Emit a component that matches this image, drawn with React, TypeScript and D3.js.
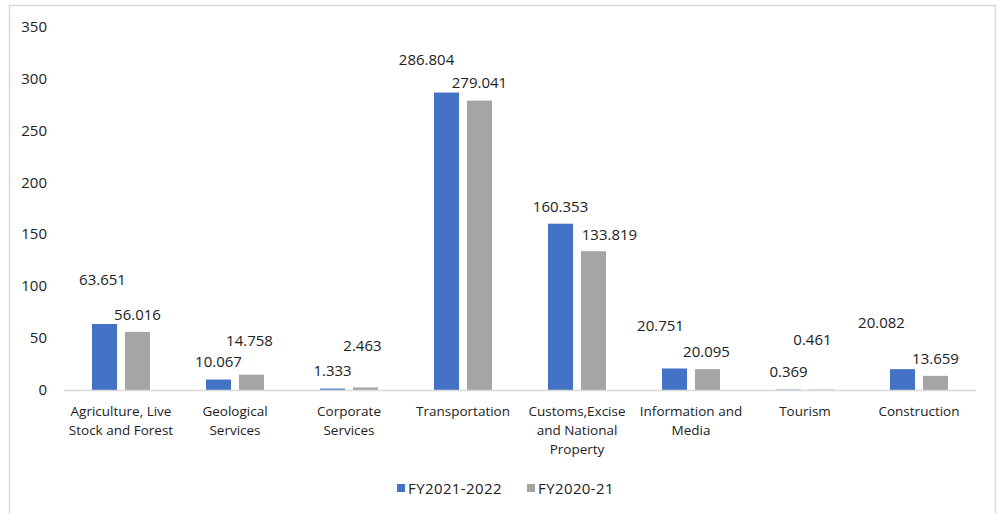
import { scaleBand, scaleLinear } from 'd3'

const categories = [
  'Agriculture, Live\nStock and Forest',
  'Geological\nServices',
  'Corporate\nServices',
  'Transportation',
  'Customs,Excise\nand National\nProperty',
  'Information and\nMedia',
  'Tourism',
  'Construction',
]
const seriesNames = ['FY2021-2022', 'FY2020-21']
const fy2122 = [63.651, 10.067, 1.333, 286.804, 160.353, 20.751, 0.369, 20.082]
const fy2021 = [56.016, 14.758, 2.463, 279.041, 133.819, 20.095, 0.461, 13.659]
const yTicks = [0, 50, 100, 150, 200, 250, 300, 350]

const colors = ['#4472C4', '#A5A5A5']

// label drags from the original (dx, dy from bar top)
const nudges = [
  [[-2, -44], [0, -18], [0, -18], [-20, -33], [0, -17], [-14, -42], [0, -18], [-21, -46]],
  [[0, -17], [-2, -34], [-3, -41], [0, -18], [16, -16], [-1, -17], [-9, -50], [0, -17]],
]

const width = 997
const height = 514
const font = "'Open Sans', sans-serif"
const textColor = '#222'

function App() {
  const values = [fy2122, fy2021]

  const x0 = scaleBand<number>()
    .domain(categories.map((_, i) => i))
    .range([64, 976])

  const x1 = scaleBand<number>()
    .domain([0, 1])
    .range([28, 86])
    .paddingInner(0.24)

  const y = scaleLinear().domain([0, 350]).range([390, 27])

  return (
    <svg width={width} height={height} style={{ position: 'absolute', left: 0, top: 0, display: 'block' }}>
      <rect x={0} y={0} width={width} height={height} fill="#fff" />
      <rect x={9.5} y={5.5} width={986} height={520} fill="none" stroke="#d9d9d9" strokeWidth={1.5} />

      {yTicks.map(t => (
        <text key={t} x={47} y={y(t) + 5} textAnchor="end" fontFamily={font} fontSize={15} fill={textColor}>
          {t}
        </text>
      ))}

      {values.map((vals, s) =>
        vals.map((v, i) => (
          <rect
            key={`b${s}-${i}`}
            x={(x0(i) ?? 0) + (x1(s) ?? 0)}
            y={y(v)}
            width={x1.bandwidth()}
            height={y(0) - y(v)}
            fill={colors[s]}
          />
        ))
      )}

      <line x1={64} x2={976} y1={390.5} y2={390.5} stroke="#d9d9d9" strokeWidth={1.5} />

      {values.map((vals, s) =>
        vals.map((v, i) => {
          const cx = (x0(i) ?? 0) + (x1(s) ?? 0) + x1.bandwidth() / 2
          const [dx, dy] = nudges[s][i]
          return (
            <text
              key={`l${s}-${i}`}
              x={cx + dx}
              y={y(v) + dy + 5}
              textAnchor="middle"
              fontFamily={font}
              fontSize={15}
              fill={textColor}
            >
              {v.toFixed(3)}
            </text>
          )
        })
      )}

      {categories.map((c, i) => {
        const cx = (x0(i) ?? 0) + x0.bandwidth() / 2
        return (
          <text key={c} textAnchor="middle" fontFamily={font} fontSize={13.5} fill={textColor}>
            {c.split('\n').map((line, k) => (
              <tspan key={k} x={cx} y={416 + k * 18.8}>
                {line}
              </tspan>
            ))}
          </text>
        )
      })}

      {seriesNames.map((name, s) => {
        const lx = s === 0 ? 397 : 527
        return (
          <g key={name}>
            <rect x={lx} y={484} width={8} height={8} fill={colors[s]} />
            <text x={lx + 11} y={493.5} fontFamily={font} fontSize={15} letterSpacing={0.4} fill={textColor}>
              {name}
            </text>
          </g>
        )
      })}
    </svg>
  )
}

export default App
